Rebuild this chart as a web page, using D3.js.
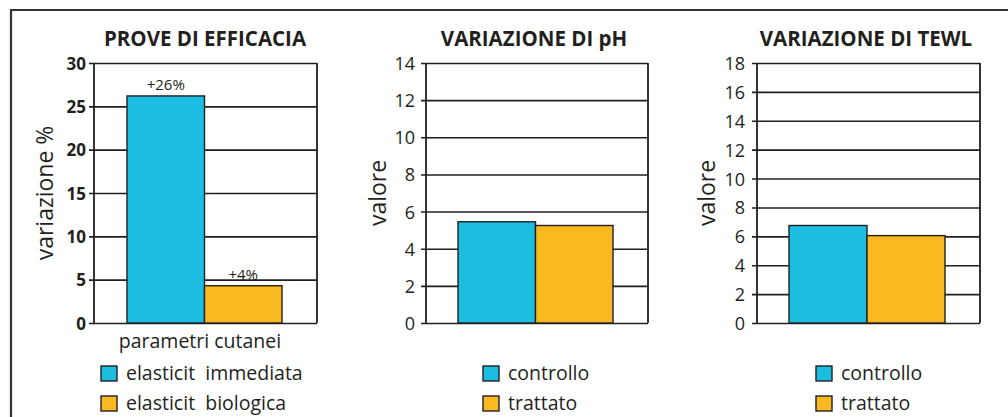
<!DOCTYPE html>
<html>
<head>
<meta charset="utf-8">
<script src="https://cdn.jsdelivr.net/npm/d3@7"></script>
<style>
  html, body { margin: 0; padding: 0; background: #fff; }
  svg { display: block; }
  text { font-family: "Open Sans", "Lato", sans-serif; fill: #231f20; }
</style>
</head>
<body>
<svg id="chart" width="1008" height="417"></svg>
<script>
// ---- data ----
const efficacyCategories = ["elasticit  immediata", "elasticit  biologica"];
const efficacyValues = [26.2, 4.3];
const efficacyLabels = ["+26%", "+4%"];
const efficacyTicks = [0, 5, 10, 15, 20, 25, 30];

const phCategories = ["controllo", "trattato"];
const phValues = [5.45, 5.25];
const phTicks = [0, 2, 4, 6, 8, 10, 12, 14];

const tewlCategories = ["controllo", "trattato"];
const tewlValues = [6.75, 6.05];
const tewlTicks = [0, 2, 4, 6, 8, 10, 12, 14, 16, 18];

const colors = ["#1bbde1", "#fbb921"];

const svg = d3.select("#chart");

// outer frame
svg.append("path")
  .attr("d", "M11,417 L11,10 L1008,10")
  .attr("fill", "none").attr("stroke", "#333").attr("stroke-width", 2.2);

const panels = [
  { title: "PROVE DI EFFICACIA", titleX: 205, left: 94, right: 317, max: 30, ticks: efficacyTicks,
    cats: efficacyCategories, vals: efficacyValues, labels: efficacyLabels,
    barStart: 127, barEnd: 282, boldTicks: true, yTitle: "variazione %", yTitleX: 53,
    xTitle: "parametri cutanei", legendX: 101, tickRight: 86 },
  { title: "VARIAZIONE DI pH", titleX: 534, left: 426, right: 648, max: 14, ticks: phTicks,
    cats: phCategories, vals: phValues, labels: null,
    barStart: 458, barEnd: 613, boldTicks: false, yTitle: "valore", yTitleX: 386,
    xTitle: null, legendX: 483, tickRight: 415 },
  { title: "VARIAZIONE DI TEWL", titleX: 866, left: 757, right: 980, max: 18, ticks: tewlTicks,
    cats: tewlCategories, vals: tewlValues, labels: null,
    barStart: 789, barEnd: 945, boldTicks: false, yTitle: "valore", yTitleX: 715,
    xTitle: null, legendX: 816, tickRight: 745 }
];

const plotTop = 63, plotBottom = 323;

panels.forEach(p => {
  const g = svg.append("g");
  const y = d3.scaleLinear().domain([0, p.max]).range([plotBottom, plotTop]);
  const x = d3.scaleBand().domain(p.cats).range([p.barStart, p.barEnd]).padding(0);

  // title
  g.append("text").attr("x", p.titleX).attr("y", 46)
    .attr("text-anchor", "middle").attr("font-weight", "bold")
    .attr("font-size", 20.5).text(p.title);

  // gridlines
  const axis = d3.axisLeft(y).tickValues(p.ticks).tickSize(-(p.right - p.left)).tickPadding(9)
    .tickFormat(d3.format("d"));
  const ag = g.append("g").attr("transform", `translate(${p.left},0)`).call(axis);
  ag.select(".domain").remove();
  ag.selectAll(".tick line").attr("stroke", "#231f20").attr("stroke-width", 1.6).attr("x1", -5);
  ag.selectAll(".tick text")
    .attr("font-family", '"Open Sans", sans-serif')
    .attr("font-size", p.boldTicks ? 17 : 18)
    .attr("font-weight", p.boldTicks ? "bold" : "normal")
    .attr("fill", "#231f20")
    .attr("x", p.tickRight - p.left)
    .attr("dy", "0.36em");

  // left and right axis lines
  g.append("line").attr("x1", p.left).attr("x2", p.left).attr("y1", plotTop).attr("y2", plotBottom)
    .attr("stroke", "#231f20").attr("stroke-width", 1.8);
  g.append("line").attr("x1", p.right).attr("x2", p.right).attr("y1", plotTop).attr("y2", plotBottom)
    .attr("stroke", "#231f20").attr("stroke-width", 1.8);

  // bars
  g.selectAll("rect.bar").data(p.vals).enter().append("rect")
    .attr("class", "bar")
    .attr("x", (d, i) => x(p.cats[i]))
    .attr("width", x.bandwidth())
    .attr("y", d => y(d))
    .attr("height", d => plotBottom - y(d))
    .attr("fill", (d, i) => colors[i])
    .attr("stroke", "#231f20").attr("stroke-width", 1.4);

  // value labels
  if (p.labels) {
    g.selectAll("text.vl").data(p.vals).enter().append("text")
      .attr("class", "vl")
      .attr("x", (d, i) => x(p.cats[i]) + x.bandwidth() / 2)
      .attr("y", d => y(d) - 6)
      .attr("text-anchor", "middle").attr("font-size", 15)
      .text((d, i) => p.labels[i]);
  }

  // y title
  g.append("text")
    .attr("transform", `translate(${p.yTitleX},193) rotate(-90)`)
    .attr("text-anchor", "middle").attr("font-size", 23)
    .text(p.yTitle);

  // x title
  if (p.xTitle) {
    g.append("text").attr("x", 200).attr("y", 348)
      .attr("text-anchor", "middle").attr("font-size", 19.5).text(p.xTitle);
  }

  // legend
  p.cats.forEach((c, i) => {
    const ly = 366 + i * 30;
    g.append("rect").attr("x", p.legendX).attr("y", ly).attr("width", 16).attr("height", 15)
      .attr("fill", colors[i]).attr("stroke", "#231f20").attr("stroke-width", 1.4);
    g.append("text").attr("x", p.legendX + 25).attr("y", ly + 14)
      .attr("font-size", 19.5).style("white-space", "pre").text(c);
  });
});
</script>
</body>
</html>
